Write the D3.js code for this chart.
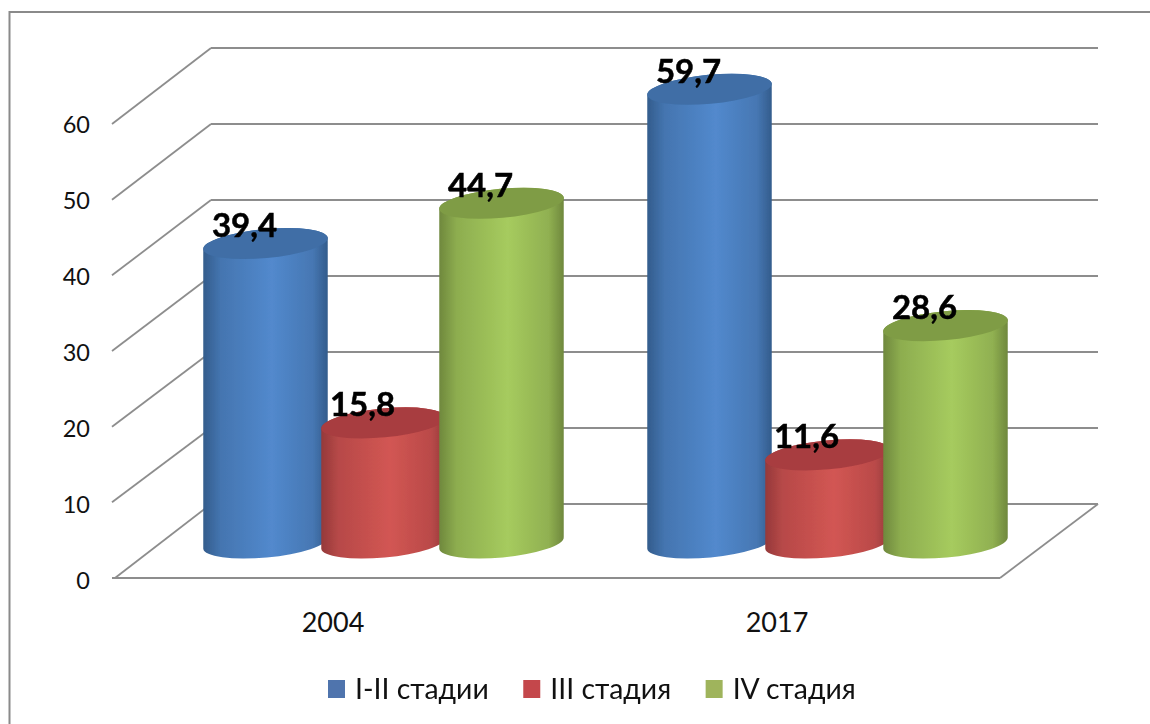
<!DOCTYPE html>
<html><head><meta charset="utf-8">
<script src="https://cdn.jsdelivr.net/npm/d3@7"></script>
<style>html,body{margin:0;padding:0;background:#fff}svg{display:block}text{font-family:Lato,"Open Sans",sans-serif;fill:#111}</style>
</head><body><svg id="c" width="1150" height="724"></svg>
<script>
const categories = ["2004", "2017"];
const seriesNames = ["I-II стадии", "III стадия", "IV стадия"];
const valuesI_II = [39.4, 59.7];
const valuesIII = [15.8, 11.6];
const valuesIV = [44.7, 28.6];
const seriesValues = [valuesI_II, valuesIII, valuesIV];
const tickValues = [0, 10, 20, 30, 40, 50, 60];
const palette = [
  {edge:"#335c8c", mid:"#5289cd", top:"#3f6ea6", sw:"#4f74ad"},
  {edge:"#95393a", mid:"#d25653", top:"#a83d40", sw:"#c4474b"},
  {edge:"#6f883d", mid:"#a6cb5e", top:"#7f9c45", sw:"#9fb45c"}
];

const svg = d3.select("#c");
const defs = svg.append("defs");
defs.append("filter").attr("id","soft").append("feGaussianBlur").attr("stdDeviation",0.6);
palette.forEach((p,i)=>{
  const g = defs.append("linearGradient").attr("id","g"+i);
  [[0,p.edge],[0.14,d3.interpolateRgb(p.edge,p.mid)(0.55)],[0.55,p.mid],[0.88,d3.interpolateRgb(p.edge,p.mid)(0.6)],[1,p.edge]]
    .forEach(s=>g.append("stop").attr("offset",s[0]).attr("stop-color",s[1]));
});

// frame
svg.append("path").attr("d","M1150,12H9.5V724").attr("fill","none").attr("stroke","#8a8a8a").attr("stroke-width",2);

// geometry of the pseudo-3D box
const frontLeft = 112, frontRight = 1000, depthX = 99;
const yFront = d3.scaleLinear().domain([0,60]).range([578,124]);
const yBack = d3.scaleLinear().domain([0,60]).range([504,48]);
const yBar = d3.scaleLinear().domain([0,60]).range([543,87]);
const x0 = d3.scaleBand().domain(categories).range([frontLeft,frontRight]);
const barOffset = 49.5;
const x1 = d3.scaleBand().domain(d3.range(seriesNames.length)).range([-177,177]);
const gridColor = "#8d8d8d";

const grid = svg.append("g").attr("fill","none").attr("stroke",gridColor).attr("stroke-width",1.8);
tickValues.forEach(v=>{
  grid.append("line").attr("x1",frontLeft+depthX).attr("x2",frontRight+depthX-1).attr("y1",yBack(v)).attr("y2",yBack(v));
  grid.append("line").attr("x1",frontLeft+(v===0?3:0)).attr("x2",frontLeft+depthX).attr("y1",yFront(v)).attr("y2",yBack(v));
});
grid.append("line").attr("x1",frontLeft).attr("x2",frontRight).attr("y1",yFront(0)).attr("y2",yFront(0));
grid.append("line").attr("x1",frontRight).attr("x2",frontRight+depthX-1).attr("y1",yFront(0)).attr("y2",yBack(0));

// axes
const yAxisG = svg.append("g").attr("transform",`translate(${frontLeft-22},0)`)
  .call(d3.axisLeft(d3.scaleLinear().domain([0,60]).range([581,125])).tickValues(tickValues).tickSize(0).tickPadding(0));
yAxisG.select(".domain").remove();
yAxisG.selectAll("text").attr("font-size",23.5).attr("font-family","Lato");
const xAxisG = svg.append("g").attr("transform",`translate(-1,${yFront(0)})`)
  .call(d3.axisBottom(x0).tickSize(0).tickPadding(35));
xAxisG.select(".domain").remove();
xAxisG.selectAll("text").attr("font-size",27).attr("font-family","Lato");

// cylinders
const rx = 62.5, ry = 14.5, tilt = -5.3, rad = tilt*Math.PI/180;
const dxE = rx*Math.cos(rad), dyE = rx*Math.sin(rad);
const barsG = svg.append("g").attr("filter","url(#soft)");
const labels = [];
categories.forEach((c,ci)=>{
  const bandCenter = x0(c)+x0.bandwidth()/2+barOffset;
  seriesValues.forEach((vals,si)=>{
    const v = vals[ci];
    const cx = bandCenter+x1(si)+x1.bandwidth()/2;
    const yt = yBar(v), yb = yBar(0);
    barsG.append("path")
      .attr("d",`M${cx-dxE},${yt-dyE}L${cx-dxE},${yb-dyE}A${rx},${ry},${tilt},0,0,${cx+dxE},${yb+dyE}L${cx+dxE},${yt+dyE}A${rx},${ry},${tilt},0,0,${cx-dxE},${yt-dyE}Z`)
      .attr("fill",`url(#g${si})`);
    barsG.append("ellipse").attr("cx",cx).attr("cy",yt).attr("rx",rx).attr("ry",ry)
      .attr("transform",`rotate(${tilt} ${cx} ${yt})`).attr("fill",palette[si].top);
    labels.push({v,cx,yt});
  });
});

// data labels
svg.append("g").selectAll("text").data(labels).join("text")
  .attr("x",d=>d.cx-21).attr("y",d=>d.yt-6.5).attr("text-anchor","middle")
  .attr("font-size",33).attr("font-weight",700).style("fill","#000")
  .style("stroke","#000").style("stroke-width",0.5)
  .text(d=>d.v.toFixed(1).replace(".",","));

// legend
const legend = svg.append("g");
let lx = 328;
seriesNames.forEach((n,i)=>{
  legend.append("rect").attr("x",lx).attr("y",680).attr("width",17).attr("height",18).attr("fill",palette[i].sw);
  const t = legend.append("text").attr("x",lx+27).attr("y",699).attr("font-size",28.4).text(n);
  lx += 27 + t.node().getComputedTextLength() + 34.5;
});
</script></body></html>
